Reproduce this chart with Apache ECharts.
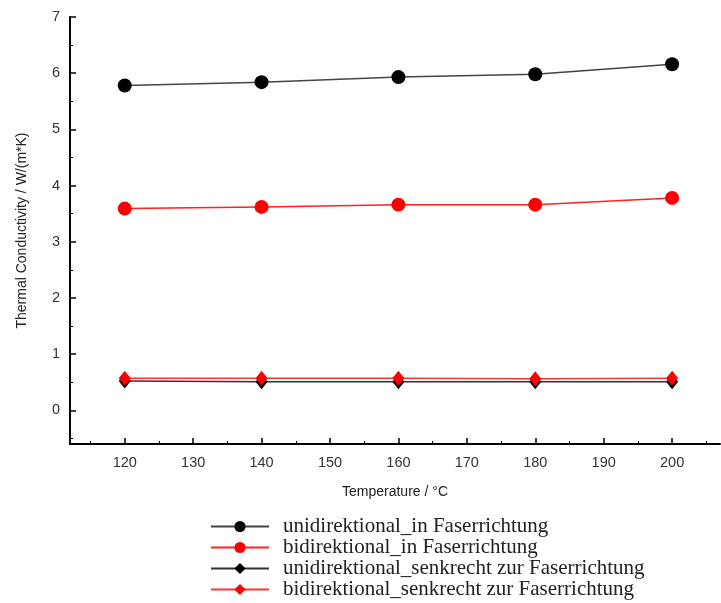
<!DOCTYPE html>
<html>
<head>
<meta charset="utf-8">
<script src="https://cdn.jsdelivr.net/npm/echarts@6/dist/echarts.min.js"></script>
<style>html,body{margin:0;padding:0;background:#fff}#c{width:721px;height:603px}</style>
</head>
<body>
<div id="c"></div>
<script>
const temperatures = [120, 140, 160, 180, 200];
const uniIn = [5.78, 5.84, 5.93, 5.98, 6.16];
const biIn = [3.59, 3.62, 3.66, 3.66, 3.78];
const uniSenk = [0.52, 0.51, 0.51, 0.51, 0.51];
const biSenk = [0.57, 0.57, 0.57, 0.56, 0.57];
const seriesNames = [
  'unidirektional_in Faserrichtung',
  'bidirektional_in Faserrichtung',
  'unidirektional_senkrecht zur Faserrichtung',
  'bidirektional_senkrecht zur Faserrichtung'
];
const xTickLabels = [120, 130, 140, 150, 160, 170, 180, 190, 200];
const xMinorTicks = [115, 125, 135, 145, 155, 165, 175, 185, 195, 205];
const yTickLabels = [0, 1, 2, 3, 4, 5, 6, 7];
const yMinorTicks = [-0.5, 0.5, 1.5, 2.5, 3.5, 4.5, 5.5, 6.5];

const pair = (ys) => temperatures.map((t, i) => [t, ys[i]]);

const sans = 'Liberation Sans, Arial, sans-serif';
const labelStyle = { color: '#333', fontFamily: sans, fontSize: 14.5 };
const axisLine = { show: true, onZero: false, lineStyle: { color: '#000', width: 2 } };

const chart = echarts.init(document.getElementById('c'), null, { renderer: 'canvas' });
chart.setOption({
  animation: false,
  backgroundColor: '#fff',
  grid: { left: 70, right: 1, top: 17, bottom: 159, containLabel: false },
  xAxis: [
    {
      type: 'value', min: 112, max: 207, position: 'bottom',
      name: 'Temperature / °C', nameLocation: 'middle', nameGap: 41,
      nameTextStyle: { color: '#222', fontFamily: sans, fontSize: 14 },
      axisLine: axisLine,
      axisTick: { show: true, inside: true, length: 6, customValues: xTickLabels, lineStyle: { color: '#000', width: 1.5 } },
      axisLabel: { ...labelStyle, margin: 11, customValues: xTickLabels },
      splitLine: { show: false }
    },
    {
      type: 'value', min: 112, max: 207, position: 'bottom',
      axisLine: { show: false, onZero: false },
      axisTick: { show: true, inside: true, length: 3, customValues: xMinorTicks, lineStyle: { color: '#000', width: 1 } },
      axisLabel: { show: false },
      splitLine: { show: false }
    }
  ],
  yAxis: [
    {
      type: 'value', min: -0.6, max: 7, position: 'left',
      name: 'Thermal Conductivity / W/(m*K)', nameLocation: 'middle', nameGap: 41,
      nameTextStyle: { color: '#222', fontFamily: sans, fontSize: 14 },
      axisLine: axisLine,
      axisTick: { show: true, inside: true, length: 6, customValues: yTickLabels, lineStyle: { color: '#000', width: 1.5 } },
      axisLabel: { ...labelStyle, margin: 10, customValues: yTickLabels },
      splitLine: { show: false }
    },
    {
      type: 'value', min: -0.6, max: 7, position: 'left',
      axisLine: { show: false, onZero: false },
      axisTick: { show: true, inside: true, length: 3, customValues: yMinorTicks, lineStyle: { color: '#000', width: 1 } },
      axisLabel: { show: false },
      splitLine: { show: false }
    }
  ],
  legend: {
    orient: 'vertical', left: 210, top: 516, height: 120, padding: 0,
    itemWidth: 58, itemHeight: 14, itemGap: 0,
    textStyle: { color: '#222', fontFamily: 'Liberation Serif, Times New Roman, serif', fontSize: 21, lineHeight: 20, padding: [0, 0, 0, 9] },
    data: seriesNames
  },
  series: [
    { name: seriesNames[0], type: 'line', data: pair(uniIn), symbol: 'circle', symbolSize: 14,
      itemStyle: { color: '#000' }, lineStyle: { color: '#444', width: 1.5 } },
    { name: seriesNames[1], type: 'line', data: pair(biIn), symbol: 'circle', symbolSize: 14,
      itemStyle: { color: '#ff0000' }, lineStyle: { color: '#f22', width: 1.5 } },
    { name: seriesNames[2], type: 'line', data: pair(uniSenk), symbol: 'diamond', symbolSize: [12, 15],
      itemStyle: { color: '#000' }, lineStyle: { color: '#333', width: 1.5 } },
    { name: seriesNames[3], type: 'line', data: pair(biSenk), symbol: 'diamond', symbolSize: [12, 15],
      itemStyle: { color: '#ff0000' }, lineStyle: { color: '#f33', width: 1.5 } }
  ]
});
</script>
</body>
</html>
